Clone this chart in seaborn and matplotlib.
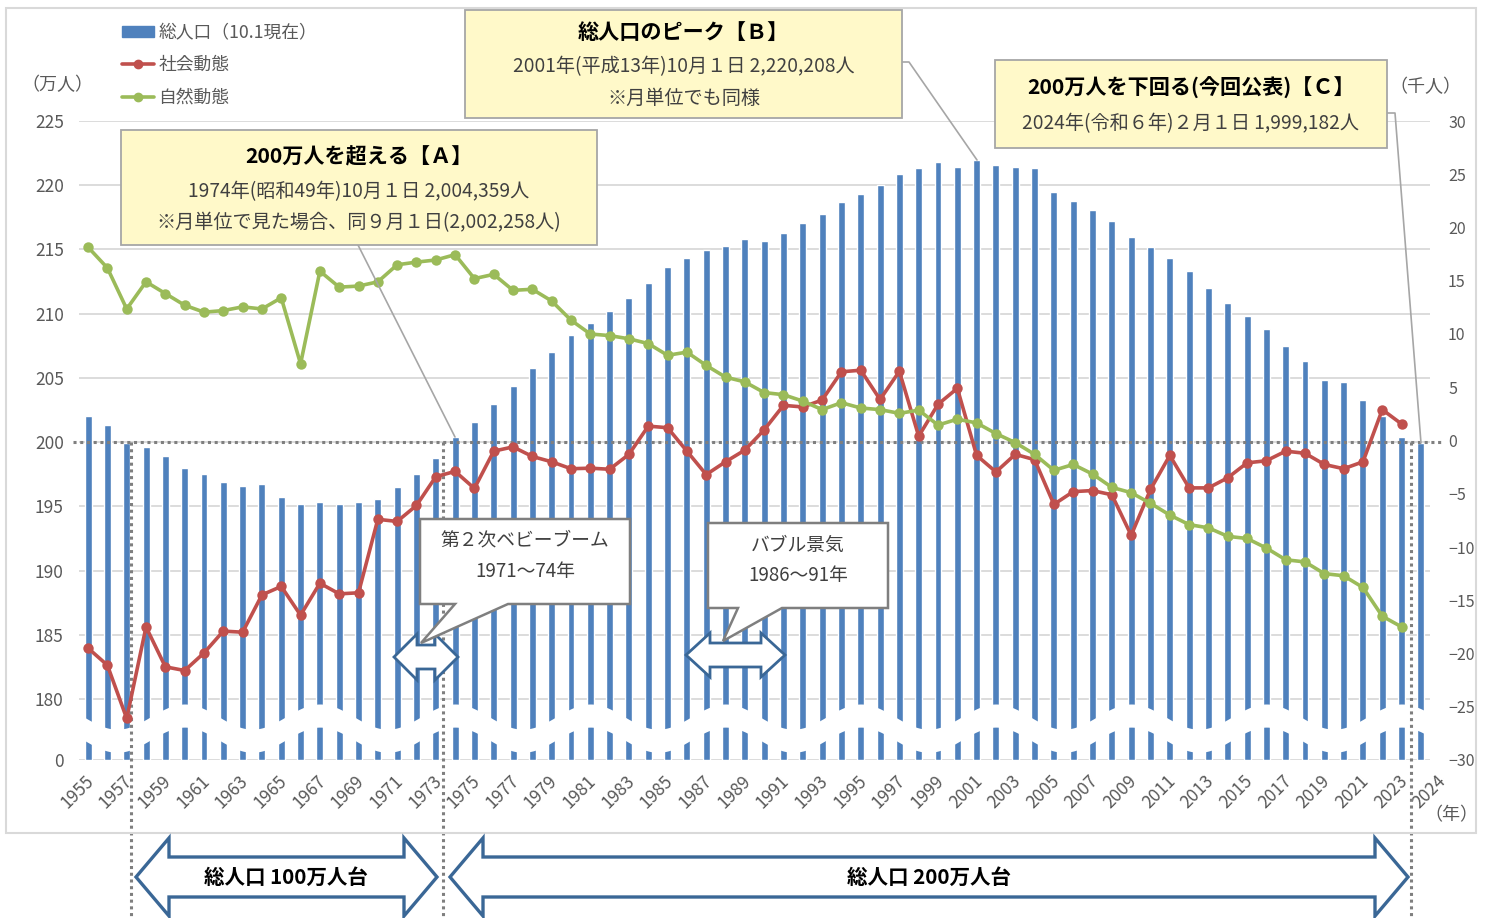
import numpy as np
import pandas as pd
import matplotlib
matplotlib.use('Agg')
import matplotlib.pyplot as plt
import seaborn as sns
from matplotlib.patches import Polygon, Rectangle, Patch
from matplotlib.lines import Line2D
from matplotlib.transforms import ScaledTranslation

sns.set_style('white')
plt.rcParams['font.family'] = ['Noto Sans CJK JP', 'DejaVu Sans']

# ---- data ----
years = list(range(1955, 2025))
# 総人口 (万人, 10月1日現在; 2024 は 2月1日)
total = [202.0, 201.3, 199.95, 199.6, 198.9, 198.0, 197.5, 196.9, 196.6, 196.7,
         195.7, 195.15, 195.3, 195.2, 195.35, 195.6, 196.5, 197.5, 198.8, 200.4,
         201.6, 203.0, 204.4, 205.8, 207.0, 208.3, 209.3, 210.2, 211.2, 212.4,
         213.65, 214.35, 214.95, 215.3, 215.8, 215.65, 216.3, 217.05, 217.75, 218.7,
         219.3, 220.0, 220.85, 221.35, 221.8, 221.4, 222.0, 221.55, 221.4, 221.35,
         219.5, 218.8, 218.1, 217.25, 216.0, 215.2, 214.35, 213.3, 212.0, 210.8,
         209.8, 208.8, 207.5, 206.3, 204.85, 204.7, 203.25, 202.0, 200.4, 199.9]
line_years = list(range(1955, 2024))
# 社会動態 (千人)
social = [-19.5, -21.1, -26.1, -17.5, -21.25, -21.6, -19.95, -17.9, -18.0, -14.5,
          -13.7, -16.4, -13.4, -14.4, -14.3, -7.4, -7.6, -6.1, -3.4, -2.9,
          -4.5, -1.0, -0.6, -1.5, -2.0, -2.65, -2.6, -2.7, -1.3, 1.35,
          1.2, -1.0, -3.2, -2.0, -0.9, 1.0, 3.3, 3.15, 3.8, 6.45,
          6.6, 3.85, 6.5, 0.4, 3.4, 4.9, -1.4, -2.95, -1.3, -1.8,
          -6.0, -4.8, -4.7, -5.1, -8.9, -4.6, -1.4, -4.45, -4.45, -3.5,
          -2.1, -1.9, -1.0, -1.2, -2.25, -2.65, -2.0, 2.9, 1.55]
# 自然動態 (千人)
natural = [18.15, 16.2, 12.35, 14.9, 13.8, 12.7, 12.05, 12.2, 12.55, 12.35,
           13.4, 7.2, 15.9, 14.4, 14.5, 14.9, 16.5, 16.75, 16.95, 17.45,
           15.2, 15.6, 14.1, 14.2, 13.1, 11.3, 10.0, 9.85, 9.55, 9.1,
           8.0, 8.3, 7.05, 5.95, 5.5, 4.5, 4.3, 3.7, 2.9, 3.55,
           3.05, 2.9, 2.55, 2.85, 1.45, 2.0, 1.65, 0.65, -0.2, -1.3,
           -2.8, -2.25, -3.15, -4.4, -4.9, -5.9, -7.0, -7.9, -8.2, -9.0,
           -9.2, -10.1, -11.2, -11.4, -12.5, -12.7, -13.8, -16.5, -17.5]
left_ticks = [180, 185, 190, 195, 200, 205, 210, 215, 220, 225]
right_ticks = list(range(-30, 31, 5))
xtick_years = list(range(1955, 2024, 2)) + [2024]

BLUE = '#4F81BD'
RED = '#C0504D'
GREEN = '#9BBB59'
TXT = '#595959'
ARROW = '#3A6796'

# broken axis: "0" sits at 175.25 so the 180-225 range fills the plot
BASE = 175.25

W, H = 1487, 918
fig = plt.figure(figsize=(W / 100, H / 100), dpi=100)
ax = fig.add_axes([79 / W, 1 - 760 / H, (1430 - 79) / W, (760 - 121) / H])

df = pd.DataFrame({'year': years, 'h': [t - BASE for t in total]})
sns.barplot(data=df, x='year', y='h', native_scale=True, width=0.36,
            color=BLUE, saturation=1, errorbar=None, ax=ax, zorder=2)

# wavy break band
xs = np.linspace(1954.4, 2024.6, 800)
c = 2.48 + 0.98 * np.cos(2 * np.pi * (xs - 1960) / 7)
ax.fill_between(xs, c - 0.9, c + 0.9, color='white', zorder=3, lw=0)

ax.set_xlim(1954.53, 2024.47)
ax.set_ylim(0, 225 - BASE)
ax.set_yticks([0] + [t - BASE for t in left_ticks])
ax.set_yticklabels(['0'] + [str(t) for t in left_ticks])
ax.set_xticks(xtick_years)
ax.set_xticklabels([str(y) for y in xtick_years], rotation=45, ha='right',
                   va='center', rotation_mode='anchor')
ax.tick_params(axis='both', length=0, labelsize=12.5, labelcolor=TXT)
ax.tick_params(axis='y', pad=11)
ax.tick_params(axis='x', pad=13)
for lab, yr in zip(ax.get_xticklabels(), xtick_years):
    dx = 3 if yr != 2024 else 22
    lab.set_transform(lab.get_transform() + ScaledTranslation(dx / 100, 0, fig.dpi_scale_trans))
ax.set_xlabel('')
ax.set_ylabel('')
ax.yaxis.grid(True, color='#D9D9D9', lw=1.3)
ax.xaxis.grid(False)
ax.set_axisbelow(True)
for s in ax.spines.values():
    s.set_visible(False)

# 200 dotted reference and vertical dotted separators
ax.plot([1954.2, 2025.2], [200 - BASE, 200 - BASE], ls=(0, (1, 1.2)), color='#7F7F7F',
        lw=2.2, clip_on=False, zorder=4)
for xv in [1957.23, 1973.37, 2023.48]:
    ax.plot([xv, xv], [200 - BASE, -12.6], ls=(0, (1, 1.2)), color='#7F7F7F',
            lw=2.2, clip_on=False, zorder=4)

ax2 = ax.twinx()
sns.lineplot(x=line_years, y=social, color=RED, lw=2.6, marker='o', markersize=7.5,
             markeredgewidth=0, ax=ax2, zorder=5)
sns.lineplot(x=line_years, y=natural, color=GREEN, lw=2.6, marker='o', markersize=7.5,
             markeredgewidth=0, ax=ax2, zorder=5)
ax2.set_ylim(-30, 30)
ax2.set_yticks(right_ticks)
ax2.tick_params(axis='y', length=0, labelsize=11.5, labelcolor=TXT, pad=13)
ax2.set_ylabel('')
for s in ax2.spines.values():
    s.set_visible(False)
ax2.grid(False)

# overlay in pixel coordinates for annotations
ov = fig.add_axes([0, 0, 1, 1], zorder=10)
ov.set_xlim(0, W)
ov.set_ylim(H, 0)
ov.axis('off')

ov.add_patch(Rectangle((6, 8), 1470, 825, fc='none', ec='#D9D9D9', lw=1.5))

ov.text(57, 85, '（万人）', ha='center', va='center', fontsize=13, color=TXT)
ov.text(1425, 87, '（千人）', ha='center', va='center', fontsize=13, color=TXT)
ov.text(1451, 815, '（年）', ha='center', va='center', fontsize=13, color=TXT)

handles = [Patch(color=BLUE),
           Line2D([], [], color=RED, lw=2.6, marker='o', markersize=6),
           Line2D([], [], color=GREEN, lw=2.6, marker='o', markersize=6)]
labels = ['総人口（10.1現在）', '社会動態', '自然動態']
leg = fig.legend(handles, labels, loc='upper left', bbox_to_anchor=(106 / W, 1 - 8 / H),
                 frameon=False, fontsize=12.8, handlelength=1.8, handleheight=0.55,
                 handletextpad=0.25, labelspacing=0.8)
for t in leg.get_texts():
    t.set_color(TXT)

YEL = '#FFF9C9'
BOX_EC = '#A6A6A6'


def note_box(x0, y0, x1, y1, lines, ys):
    ov.add_patch(Rectangle((x0, y0), x1 - x0, y1 - y0, fc=YEL, ec=BOX_EC, lw=1.3, zorder=3))
    cx = (x0 + x1) / 2
    for i, (txt, yy) in enumerate(zip(lines, ys)):
        if i == 0:
            ov.text(cx, yy, txt, ha='center', va='center', fontsize=15.2,
                    fontweight='bold', color='black', zorder=4)
        else:
            ov.text(cx, yy, txt, ha='center', va='center', fontsize=13.8,
                    color='#404040', zorder=4)


# leader lines
ov.plot([358, 455], [245, 437], color='#A6A6A6', lw=1.2, zorder=2)
ov.plot([902, 909, 977], [62, 62, 160], color='#A6A6A6', lw=1.2, zorder=2)
ov.plot([1386, 1395, 1421], [113, 113, 443], color='#A6A6A6', lw=1.2, zorder=2)

note_box(121, 130, 597, 245,
         ['200万人を超える【Ａ】', '1974年(昭和49年)10月１日 2,004,359人',
          '※月単位で見た場合、同９月１日(2,002,258人)'], [157, 192, 223])
note_box(465, 10, 902, 118,
         ['総人口のピーク【Ｂ】', '2001年(平成13年)10月１日 2,220,208人',
          '※月単位でも同様'], [32, 67, 98])
note_box(995, 60, 1387, 148,
         ['200万人を下回る(今回公表)【Ｃ】', '2024年(令和６年)２月１日 1,999,182人'],
         [88, 124])


def callout(x0, y0, x1, y1, pa, pb, tip, lines, ys):
    pts = [(x0, y0), (x1, y0), (x1, y1), (pb, y1), tip, (pa, y1), (x0, y1)]
    ov.add_patch(Polygon(pts, closed=True, fc='white', ec='#7F7F7F', lw=1.8, zorder=3))
    cx = (x0 + x1) / 2
    for txt, yy in zip(lines, ys):
        ov.text(cx, yy, txt, ha='center', va='center', fontsize=13.5, color='#404040', zorder=4)


def double_arrow(x0, x1, yc, sh, hh, hl, lw):
    pts = [(x0, yc), (x0 + hl, yc - hh), (x0 + hl, yc - sh), (x1 - hl, yc - sh),
           (x1 - hl, yc - hh), (x1, yc), (x1 - hl, yc + hh), (x1 - hl, yc + sh),
           (x0 + hl, yc + sh), (x0 + hl, yc + hh)]
    ov.add_patch(Polygon(pts, closed=True, fc='white', ec=ARROW, lw=lw, zorder=3,
                         joinstyle='miter'))


double_arrow(394, 458, 657, 12, 23, 23, 2.0)
double_arrow(686, 785, 655, 12, 22, 24, 2.0)
callout(420, 519, 630, 604, 455, 508, (421, 643), ['第２次ベビーブーム', '1971〜74年'], [540, 572])
callout(708, 523, 888, 608, 738, 782, (723, 641), ['バブル景気', '1986〜91年'], [545, 576])

double_arrow(136, 437, 877, 20, 39, 33, 2.4)
double_arrow(450, 1408, 877, 20, 39, 33, 2.4)
ov.text(286, 877, '総人口 100万人台', ha='center', va='center', fontsize=14.8,
        fontweight='bold', color='black', zorder=4)
ov.text(929, 877, '総人口 200万人台', ha='center', va='center', fontsize=14.8,
        fontweight='bold', color='black', zorder=4)

fig.savefig('out.png', dpi=100, facecolor='white')
